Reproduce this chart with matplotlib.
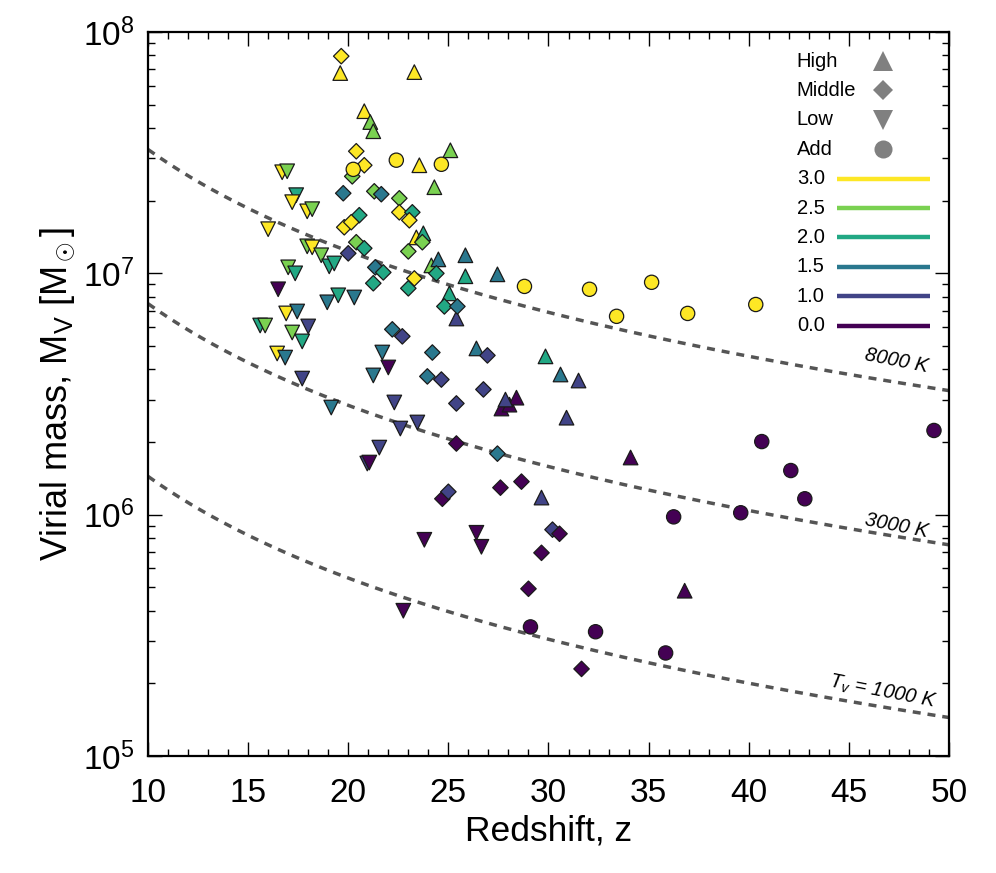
import numpy as np
import matplotlib

matplotlib.use("Agg")
import matplotlib.pyplot as plt
from matplotlib.lines import Line2D
from matplotlib.ticker import MultipleLocator

plt.rcParams["font.family"] = ["Liberation Sans", "DejaVu Sans"]
plt.rcParams["mathtext.fontset"] = "custom"
plt.rcParams["mathtext.rm"] = "Liberation Sans"
plt.rcParams["mathtext.it"] = "Liberation Sans:italic"
plt.rcParams["mathtext.bf"] = "Liberation Sans:bold"

# metallicity class -> colour (viridis steps)
metal_levels = [3.0, 2.5, 2.0, 1.5, 1.0, 0.0]
metal_colors = ["#fde725", "#7ad151", "#22a884", "#2a788e", "#414487", "#440154"]

# --- High ---------------------------------------------------------------
z_high = [19.6, 23.3, 20.8, 21.1, 21.25, 25.1, 23.55, 24.3, 23.4, 23.75,
          24.15, 24.5, 25.85, 25.85, 27.45, 25.05, 25.4, 26.4, 29.85, 30.6,
          31.5, 30.9, 27.65, 28.05, 28.4, 27.85, 34.1, 29.65, 36.8]
logm_high = [7.830, 7.834, 7.672, 7.627, 7.589, 7.510, 7.448, 7.357, 7.149, 7.166,
             7.033, 7.058, 7.075, 6.988, 6.996, 6.917, 6.813, 6.689, 6.656, 6.581,
             6.556, 6.402, 6.440, 6.456, 6.485, 6.477, 6.237, 6.071, 5.685]
met_high = [3.0, 3.0, 3.0, 2.5, 2.5, 2.5, 3.0, 2.5, 3.0, 2.0,
            2.5, 1.5, 1.5, 2.0, 1.5, 2.0, 1.0, 1.5, 2.0, 1.5,
            1.0, 1.0, 0.0, 0.0, 0.0, 1.0, 0.0, 1.0, 0.0]

# --- Middle -------------------------------------------------------------
z_mid = [19.65, 20.4, 20.8, 20.2, 19.75, 21.3, 21.65, 22.55, 22.55, 23.2,
         23.05, 20.55, 19.8, 20.15, 20.4, 20.8, 20.0, 23.0, 23.7, 21.35,
         21.75, 21.25, 23.3, 23.0, 24.4, 24.8, 25.45, 22.2, 22.7, 24.2,
         26.95, 23.95, 24.65, 26.75, 25.4, 25.4, 27.45, 27.6, 28.65, 24.7,
         25.0, 30.2, 30.55, 29.65, 29.0, 31.65]
logm_mid = [7.900, 7.506, 7.448, 7.402, 7.332, 7.340, 7.328, 7.311, 7.253, 7.253,
            7.220, 7.241, 7.191, 7.212, 7.129, 7.104, 7.083, 7.091, 7.129, 7.025,
            7.004, 6.959, 6.979, 6.938, 7.000, 6.863, 6.863, 6.768, 6.739, 6.672,
            6.660, 6.573, 6.560, 6.519, 6.461, 6.295, 6.253, 6.112, 6.137, 6.066,
            6.095, 5.938, 5.921, 5.842, 5.693, 5.361]
met_mid = [3.0, 3.0, 3.0, 2.5, 1.5, 2.5, 1.5, 2.5, 3.0, 2.0,
           3.0, 2.0, 3.0, 3.0, 2.5, 2.0, 1.0, 2.5, 2.5, 1.5,
           2.0, 2.0, 3.0, 2.0, 2.0, 2.0, 1.5, 1.5, 1.0, 1.5,
           1.0, 1.5, 1.0, 1.0, 1.0, 0.0, 1.5, 0.0, 0.0, 0.0,
           1.0, 1.0, 0.0, 0.0, 0.0, 0.0]

# --- Low ----------------------------------------------------------------
z_low = [16.7, 16.95, 17.4, 17.2, 17.95, 18.2, 16.0, 17.95, 18.2, 18.65,
         19.05, 19.3, 17.0, 17.35, 16.5, 18.95, 19.5, 20.3, 16.9, 17.45,
         15.6, 15.85, 18.0, 17.2, 17.7, 16.45, 16.85, 17.7, 19.15, 21.7,
         22.0, 21.25, 22.3, 22.6, 23.45, 21.55, 20.95, 21.05, 23.8, 26.4,
         26.65, 22.75]
logm_low = [7.419, 7.423, 7.324, 7.295, 7.257, 7.266, 7.183, 7.112, 7.108, 7.075,
            7.029, 7.041, 7.025, 7.000, 6.934, 6.880, 6.909, 6.900, 6.834, 6.842,
            6.784, 6.784, 6.780, 6.755, 6.718, 6.668, 6.651, 6.564, 6.444, 6.672,
            6.610, 6.577, 6.465, 6.357, 6.382, 6.278, 6.212, 6.216, 5.896, 5.925,
            5.867, 5.602]
met_low = [3.0, 2.5, 2.0, 3.0, 3.0, 2.5, 3.0, 2.5, 3.0, 2.5,
           2.0, 2.0, 2.5, 2.0, 0.0, 1.5, 2.0, 1.5, 3.0, 1.5,
           2.0, 2.5, 1.0, 2.5, 2.0, 3.0, 1.5, 1.0, 1.5, 1.5,
           0.0, 1.5, 1.0, 1.0, 1.0, 1.0, 1.0, 0.0, 0.0, 0.0,
           0.0, 0.0]

# --- Add ----------------------------------------------------------------
z_add = [20.25, 22.4, 24.65, 28.8, 32.05, 33.4, 35.15, 36.95, 40.35,
         40.65, 42.1, 42.8, 36.25, 39.6, 49.25, 35.85, 29.1, 32.35]
logm_add = [7.431, 7.469, 7.452, 6.946, 6.934, 6.822, 6.963, 6.834, 6.871,
            6.303, 6.183, 6.066, 5.991, 6.008, 6.349, 5.427, 5.535, 5.515]
met_add = [3.0, 3.0, 3.0, 3.0, 3.0, 3.0, 3.0, 3.0, 3.0,
           0.0, 0.0, 0.0, 0.0, 0.0, 0.0, 0.0, 0.0, 0.0]

# virial temperature curves
tvir_values = [8000, 3000, 1000]
tvir_labels = ["8000 K", "3000 K", r"$T_v$ = 1000 K"]
tvir_label_z = [47.4, 47.4, 46.7]
tvir_label_logm = [6.64, 5.955, 5.265]
MU = 0.59
HUBBLE_H = 0.7


def virial_mass(tvir, z):
    """Halo mass for a given virial temperature (Barkana & Loeb style)."""
    return (1e8 / HUBBLE_H * (MU / 0.6) ** -1.5
            * (tvir / 1.98e4) ** 1.5 * ((1 + z) / 10.0) ** -1.5)


def color_for(metals):
    lookup = dict(zip(metal_levels, metal_colors))
    return [lookup[m] for m in metals]


fig = plt.figure(figsize=(9.96, 8.73), dpi=100)
ax = fig.add_axes([0.1486, 0.1340, 0.8042, 0.8293])

zgrid = np.linspace(10, 50, 300)
for tv in tvir_values:
    ax.plot(zgrid, virial_mass(tv, zgrid), color="#555555", lw=2.5,
            dashes=(2.3, 2.0), dash_capstyle="butt", zorder=1)

for tv, lab, zl, ml in zip(tvir_values, tvir_labels, tvir_label_z, tvir_label_logm):
    ax.text(zl, 10 ** ml, lab, fontsize=14.5, style="italic", rotation=-11,
            ha="center", va="center", zorder=2)

groups = [
    (z_high, logm_high, met_high, "^", 110),
    (z_mid, logm_mid, met_mid, "D", 62),
    (z_low, logm_low, met_low, "v", 110),
    (z_add, logm_add, met_add, "o", 105),
]
for zs, lm, mt, marker, size in groups:
    ax.scatter(zs, 10 ** np.array(lm), c=color_for(mt), marker=marker, s=size,
               edgecolors="#1a1a1a", linewidths=0.9, zorder=3)

ax.set_yscale("log")
ax.set_xlim(10, 50)
ax.set_ylim(1e5, 1e8)
ax.xaxis.set_major_locator(MultipleLocator(5))
ax.xaxis.set_minor_locator(MultipleLocator(1))

ax.tick_params(which="both", direction="in", top=True, right=True,
               labelsize=24)
ax.tick_params(axis="x", pad=16)
ax.tick_params(axis="y", pad=10)
ax.tick_params(which="major", length=10, width=1.0)
ax.tick_params(which="minor", length=5, width=1.0)
for sp in ax.spines.values():
    sp.set_linewidth(1.6)

ax.set_xlabel("Redshift, z", fontsize=25.5, labelpad=4)
ax.set_ylabel(r"Virial mass, M$_\mathrm{V}$ [M$_\odot$]", fontsize=26, labelpad=4)

# legend built by hand so labels are left aligned and keys line up
shape_names = ["High", "Middle", "Low", "Add"]
shape_markers = ["^", "D", "v", "o"]
shape_sizes = [15, 10.5, 15, 13]
row0 = (756 - 61) / 724.0
row_step = 29.4 / 724.0
text_x = 0.810
key_x0, key_x1 = 0.860, 0.976
key_xc = 0.5 * (key_x0 + key_x1)

rows = []
for name, mk, ms in zip(shape_names, shape_markers, shape_sizes):
    rows.append((name, dict(marker=mk, ms=ms, color="#808080", ls="none", mew=0)))
for lev, col in zip(metal_levels, metal_colors):
    rows.append((f"{lev:.1f}", dict(color=col, lw=3.2, solid_capstyle="butt")))

for i, (label, style) in enumerate(rows):
    y = row0 - i * row_step
    ax.text(text_x, y, label, transform=ax.transAxes, fontsize=14.5,
            ha="left", va="center")
    if "marker" in style:
        ax.add_line(Line2D([key_xc], [y], transform=ax.transAxes, **style))
    else:
        ax.add_line(Line2D([key_x0, key_x1], [y, y], transform=ax.transAxes, **style))

fig.savefig("out.png", dpi=100)
